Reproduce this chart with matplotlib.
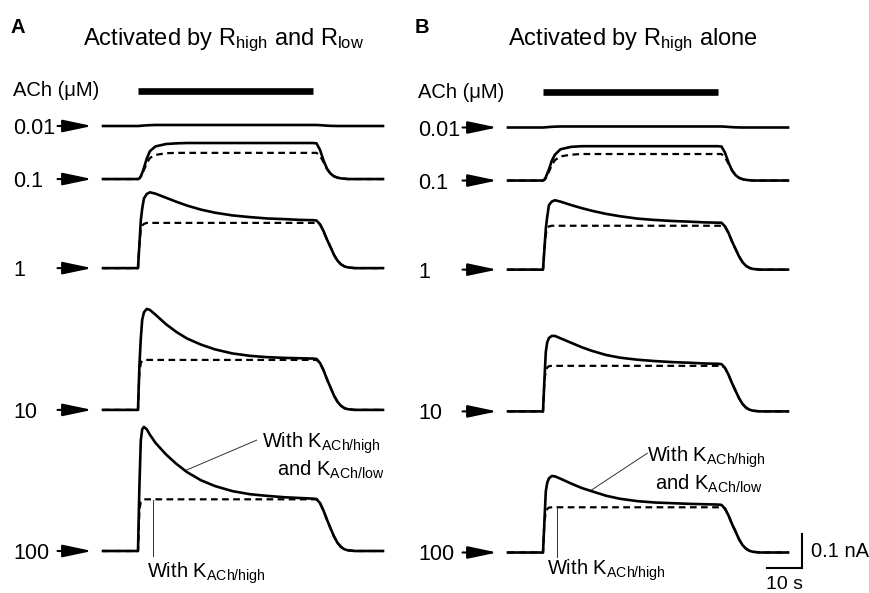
import matplotlib
matplotlib.use("Agg")
import matplotlib.pyplot as plt

plt.rcParams['font.family'] = ['Liberation Sans', 'DejaVu Sans']
plt.rcParams['mathtext.default'] = 'regular'

t_pts = [0, 10, 10.4, 10.8, 11.2, 11.7, 12.5, 13.4, 15, 18, 21, 24, 28, 32, 37, 42,
         47, 52, 56, 60, 61, 62, 63, 64, 65, 66, 67, 68, 69, 70, 72, 80]
ach_on, ach_off = 10, 60
concs = ["0.01", "0.1", "1", "10", "100"]

# currents (nA); solid = with K_ACh/high and K_ACh/low, dash = with K_ACh/high only
# panel A: activated by R_high and R_low
a001_solid = [0, 0, 0.0003, 0.0006, 0.001, 0.0014, 0.002, 0.0025, 0.003, 0.003, 0.003, 0.003,
              0.003, 0.003, 0.003, 0.003, 0.003, 0.003, 0.003, 0.003, 0.003, 0.0025, 0.0017,
              0.001, 0.0005, 0.0002, 0, 0, 0, 0, 0, 0]
a01_solid = [0, 0, 0.002, 0.008, 0.018, 0.033, 0.06, 0.082, 0.096, 0.103, 0.105, 0.106,
             0.106, 0.106, 0.106, 0.106, 0.106, 0.106, 0.106, 0.106, 0.105, 0.086, 0.055,
             0.03, 0.016, 0.008, 0.004, 0.002, 0.001, 0, 0, 0]
a01_dash = [0, 0, 0.002, 0.007, 0.015, 0.027, 0.046, 0.062, 0.071, 0.076, 0.077, 0.077,
            0.077, 0.077, 0.077, 0.077, 0.077, 0.077, 0.077, 0.077, 0.077, 0.068, 0.05,
            0.03, 0.016, 0.008, 0.004, 0.002, 0.001, 0, 0, 0]
a1_solid = [0, 0, 0.07, 0.14, 0.175, 0.205, 0.218, 0.223, 0.219, 0.207, 0.195, 0.184,
            0.172, 0.163, 0.155, 0.150, 0.146, 0.144, 0.142, 0.141, 0.140, 0.129, 0.109,
            0.084, 0.062, 0.039, 0.022, 0.011, 0.005, 0.002, 0, 0]
a1_dash = [0, 0, 0.07, 0.115, 0.125, 0.13, 0.133, 0.133, 0.133, 0.133, 0.133, 0.133,
           0.133, 0.133, 0.133, 0.133, 0.133, 0.133, 0.133, 0.133, 0.133, 0.129, 0.109,
           0.084, 0.062, 0.039, 0.022, 0.011, 0.005, 0.002, 0, 0]
a10_solid = [0, 0, 0.13, 0.21, 0.265, 0.287, 0.297, 0.294, 0.28, 0.252, 0.229, 0.21,
             0.192, 0.178, 0.166, 0.159, 0.155, 0.153, 0.152, 0.151, 0.150, 0.138, 0.117,
             0.090, 0.066, 0.042, 0.024, 0.012, 0.005, 0.002, 0, 0]
a10_dash = [0, 0, 0.11, 0.138, 0.144, 0.147, 0.147, 0.147, 0.147, 0.147, 0.147, 0.147,
            0.147, 0.147, 0.147, 0.147, 0.147, 0.147, 0.147, 0.147, 0.147, 0.138, 0.117,
            0.090, 0.066, 0.042, 0.024, 0.012, 0.005, 0.002, 0, 0]
a100_solid = [0, 0, 0.19, 0.325, 0.358, 0.365, 0.358, 0.342, 0.318, 0.284, 0.256, 0.232,
              0.208, 0.191, 0.176, 0.167, 0.162, 0.158, 0.156, 0.154, 0.153, 0.141, 0.119,
              0.092, 0.067, 0.043, 0.024, 0.012, 0.005, 0.002, 0, 0]
a100_dash = [0, 0, 0.12, 0.145, 0.15, 0.152, 0.152, 0.152, 0.152, 0.152, 0.152, 0.152,
             0.152, 0.152, 0.152, 0.152, 0.152, 0.152, 0.152, 0.152, 0.152, 0.141, 0.119,
             0.092, 0.067, 0.043, 0.024, 0.012, 0.005, 0.002, 0, 0]

# panel B: activated by R_high alone
b001_solid = [0, 0, 0.0003, 0.0006, 0.001, 0.0014, 0.002, 0.0025, 0.003, 0.003, 0.003, 0.003,
              0.003, 0.003, 0.003, 0.003, 0.003, 0.003, 0.003, 0.003, 0.003, 0.0025, 0.0017,
              0.001, 0.0005, 0.0002, 0, 0, 0, 0, 0, 0]
b01_solid = [0, 0, 0.003, 0.01, 0.02, 0.033, 0.058, 0.076, 0.092, 0.099, 0.101, 0.101,
             0.101, 0.101, 0.101, 0.101, 0.101, 0.101, 0.101, 0.101, 0.100, 0.082, 0.053,
             0.03, 0.016, 0.008, 0.004, 0.002, 0.001, 0, 0, 0]
b01_dash = [0, 0, 0.002, 0.007, 0.015, 0.026, 0.045, 0.06, 0.071, 0.076, 0.078, 0.078,
            0.078, 0.078, 0.078, 0.078, 0.078, 0.078, 0.078, 0.078, 0.078, 0.068, 0.05,
            0.03, 0.016, 0.008, 0.004, 0.002, 0.001, 0, 0, 0]
b1_solid = [0, 0, 0.06, 0.12, 0.155, 0.19, 0.2, 0.204, 0.2, 0.19, 0.181, 0.173,
            0.164, 0.157, 0.150, 0.146, 0.143, 0.141, 0.139, 0.138, 0.138, 0.127, 0.108,
            0.083, 0.061, 0.039, 0.022, 0.011, 0.005, 0.002, 0, 0]
b1_dash = [0, 0, 0.06, 0.105, 0.12, 0.127, 0.129, 0.129, 0.129, 0.129, 0.129, 0.129,
           0.129, 0.129, 0.129, 0.129, 0.129, 0.129, 0.129, 0.129, 0.129, 0.127, 0.108,
           0.083, 0.061, 0.039, 0.022, 0.011, 0.005, 0.002, 0, 0]
b10_solid = [0, 0, 0.09, 0.175, 0.203, 0.216, 0.222, 0.222, 0.215, 0.202, 0.189, 0.178,
             0.166, 0.158, 0.152, 0.148, 0.145, 0.143, 0.141, 0.140, 0.139, 0.128, 0.108,
             0.083, 0.061, 0.039, 0.022, 0.011, 0.005, 0.002, 0, 0]
b10_dash = [0, 0, 0.09, 0.12, 0.129, 0.133, 0.134, 0.134, 0.134, 0.134, 0.134, 0.134,
            0.134, 0.134, 0.134, 0.134, 0.134, 0.134, 0.134, 0.134, 0.134, 0.128, 0.108,
            0.083, 0.061, 0.039, 0.022, 0.011, 0.005, 0.002, 0, 0]
b100_solid = [0, 0, 0.09, 0.18, 0.205, 0.218, 0.225, 0.224, 0.217, 0.203, 0.19, 0.18,
              0.167, 0.158, 0.151, 0.147, 0.145, 0.143, 0.142, 0.141, 0.140, 0.129, 0.109,
              0.084, 0.062, 0.039, 0.022, 0.011, 0.005, 0.002, 0, 0]
b100_dash = [0, 0, 0.09, 0.12, 0.128, 0.132, 0.133, 0.133, 0.133, 0.133, 0.133, 0.133,
             0.133, 0.133, 0.133, 0.133, 0.133, 0.133, 0.133, 0.133, 0.133, 0.129, 0.109,
             0.084, 0.062, 0.039, 0.022, 0.011, 0.005, 0.002, 0, 0]

# vertical offsets of the stacked traces (nA)
offsets = [1.25, 1.094, 0.832, 0.415, 0.0]

W, H = 870, 593
fig = plt.figure(figsize=(W / 100, H / 100), dpi=100)

def make_ax(left_px, shift_px):
    ax = fig.add_axes([left_px / W, -shift_px / H, 280 / W, 1])
    ax.set_xlim(0, 80)
    ax.set_ylim(-(H - 551) / 340, 551 / 340)
    ax.axis('off')
    return ax

axA = make_ax(103, 0)
axB = make_ax(508, 1.5)

panels = [
    (axA, [a001_solid, a01_solid, a1_solid, a10_solid, a100_solid],
     [None, a01_dash, a1_dash, a10_dash, a100_dash]),
    (axB, [b001_solid, b01_solid, b1_solid, b10_solid, b100_solid],
     [None, b01_dash, b1_dash, b10_dash, b100_dash]),
]

fs = 14.5
for ax, solids, dashes in panels:
    for conc, off, ys, yd in zip(concs, offsets, solids, dashes):
        if yd is not None:
            ax.plot(t_pts, [v + off for v in yd], color='k', lw=1.6,
                    ls=(0, (3, 2)), zorder=2, clip_on=False)
        ax.plot(t_pts, [v + off for v in ys], color='k', lw=1.9, zorder=3,
                solid_joinstyle='round', clip_on=False)
        ax.annotate('', xy=(-3.1, off), xytext=(-13, off),
                    arrowprops=dict(arrowstyle='-|>,head_length=1.8,head_width=0.38',
                                    color='k', lw=1.5, shrinkA=0, shrinkB=0),
                    annotation_clip=False)
        ax.text(-25.7, off, conc, fontsize=15.5, ha='left', va='center_baseline')
    # ACh application bar
    ax.plot([ach_on, ach_off], [1.354, 1.354], color='k', lw=4.8,
            solid_capstyle='butt', clip_on=False)
    ax.text(-25.7, 1.354, "ACh (μM)", fontsize=fs, ha='left', va='center')

# titles and panel letters
fig.text(224 / W, 1 - 45.5 / H, r"Activated by R$_{high}$ and R$_{low}$",
         fontsize=17, ha='center', va='baseline')
fig.text(633 / W, 1 - 45.5 / H, r"Activated by R$_{high}$ alone",
         fontsize=17, ha='center', va='baseline')
fig.text(11 / W, 1 - 33 / H, "A", fontsize=14.5, fontweight='bold', va='baseline')
fig.text(415 / W, 1 - 33 / H, "B", fontsize=14.5, fontweight='bold', va='baseline')

# callouts
lbl1 = r"With K$_{ACh/high}$"
lbl2 = r"and K$_{ACh/low}$"
axA.text(45.4, 0.303, lbl1, fontsize=fs, va='baseline')
axA.text(49.7, 0.221, lbl2, fontsize=fs, va='baseline')
axA.plot([23.4, 43.9], [0.236, 0.326], color='#333333', lw=0.7, clip_on=False)
axA.text(12.5, -0.079, lbl1, fontsize=fs, va='baseline')
axA.plot([14.4, 14.4], [0.150, -0.015], color='#333333', lw=0.7, clip_on=False)

axB.text(39.7, 0.267, lbl1, fontsize=fs, va='baseline')
axB.text(42.0, 0.184, lbl2, fontsize=fs, va='baseline')
axB.plot([23.6, 39.8], [0.182, 0.292], color='#333333', lw=0.7, clip_on=False)
axB.text(11.1, -0.066, lbl1, fontsize=fs, va='baseline')
axB.plot([13.9, 13.9], [0.130, -0.012], color='#333333', lw=0.7, clip_on=False)

# scale bar: 0.1 nA, 10 s
axB.plot([74, 84, 84], [-0.0456, -0.0456, 0.0544], color='k', lw=1.5,
         solid_joinstyle='miter', clip_on=False)
axB.text(86.6, 0.004, "0.1 nA", fontsize=fs, va='center')
axB.text(79, -0.107, "10 s", fontsize=14, ha='center', va='baseline')

fig.savefig("out.png", dpi=100)
